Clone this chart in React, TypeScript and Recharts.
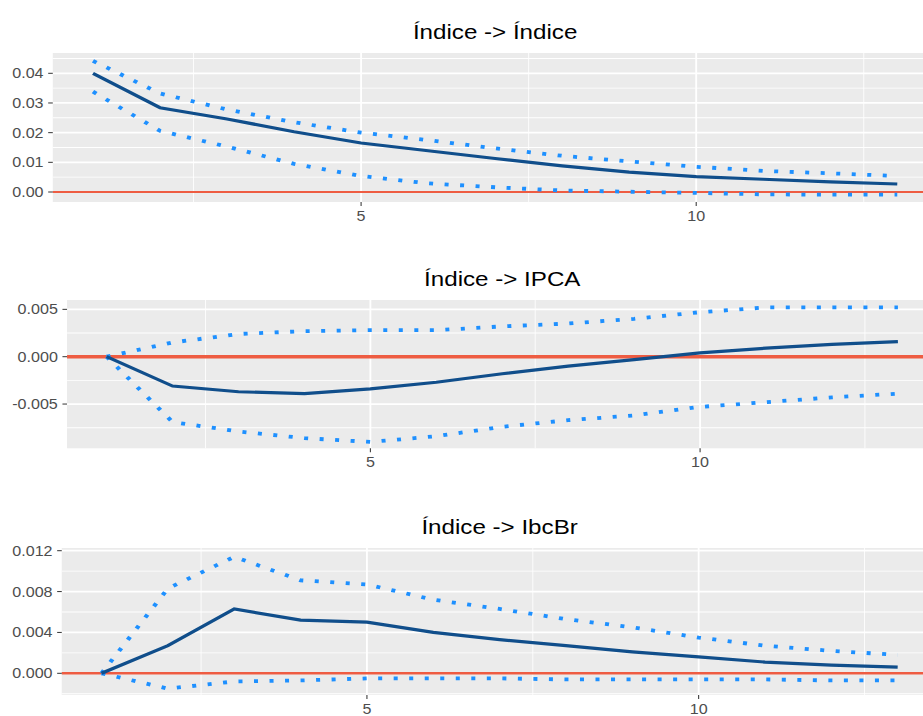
import React from "react";
import { LineChart, Line, XAxis, YAxis, CartesianGrid, ReferenceLine } from "recharts";

// ---- data ----
const STEPS = [1, 2, 3, 4, 5, 6, 7, 8, 9, 10, 11, 12, 13];
const X_TICKS = [5, 10];
const X_MINOR = [2.5, 7.5, 12.5];

const TITLE_1 = "Índice -> Índice";
const IRF_1 = [0.04, 0.0284, 0.0246, 0.0203, 0.0165, 0.0139, 0.0113, 0.0088, 0.0067, 0.0052, 0.0043, 0.0034, 0.0027];
const UPPER_1 = [0.0442, 0.0332, 0.0278, 0.0235, 0.02, 0.0175, 0.0147, 0.0122, 0.0103, 0.0085, 0.0071, 0.0063, 0.0054];
const LOWER_1 = [0.0338, 0.0206, 0.0153, 0.0095, 0.0054, 0.0029, 0.0016, 0.0005, 0.0001, -0.0003, -0.0008, -0.0009, -0.0009];
const Y_TICKS_1 = [0, 0.01, 0.02, 0.03, 0.04];
const Y_MINOR_1 = [0.005, 0.015, 0.025, 0.035, 0.045];

const TITLE_2 = "Índice -> IPCA";
const IRF_2 = [0, -0.0031, -0.0037, -0.0039, -0.0034, -0.0027, -0.0018, -0.001, -0.0003, 0.0004, 0.0009, 0.0013, 0.0016];
const UPPER_2 = [0, 0.0015, 0.0024, 0.0027, 0.0028, 0.0028, 0.0032, 0.0035, 0.004, 0.0047, 0.0052, 0.0052, 0.0052];
const LOWER_2 = [0, -0.0069, -0.0079, -0.0086, -0.009, -0.0084, -0.0074, -0.0067, -0.0062, -0.0053, -0.0048, -0.0043, -0.0039];
const Y_TICKS_2 = [-0.005, 0, 0.005];
const Y_MINOR_2 = [-0.0075, -0.0025, 0.0025];

const TITLE_3 = "Índice -> IbcBr";
const IRF_3 = [0, 0.0027, 0.0063, 0.0052, 0.005, 0.004, 0.0033, 0.0027, 0.0021, 0.0016, 0.0011, 0.0008, 0.0006];
const UPPER_3 = [0, 0.0083, 0.0114, 0.0091, 0.0087, 0.0072, 0.0063, 0.0053, 0.0045, 0.0035, 0.0027, 0.0022, 0.0018];
const LOWER_3 = [0, -0.0015, -0.0008, -0.0007, -0.0005, -0.0005, -0.0005, -0.0006, -0.0006, -0.0006, -0.0006, -0.0007, -0.0007];
const Y_TICKS_3 = [0, 0.004, 0.008, 0.012];
const Y_MINOR_3 = [-0.002, 0.002, 0.006, 0.01];

// ---- style / layout ----
const SX = 1.15;
const W = 820;
const RM = 4.8;
const TM = 12;
const FONT = "'Liberation Sans', Arial, Helvetica, sans-serif";
const BG = "#EBEBEB";
const MAIN = "#104E8B";
const BAND = "#1E90FF";
const ZERO = "#EE5C42";
const XAXIS_H = 30;

const build = (irf: number[], lo: number[], up: number[]) =>
  STEPS.map((s, i) => ({ step: s, irf: irf[i], lower: lo[i], upper: up[i] }));

const PANELS = [
  { title: TITLE_1, data: build(IRF_1, LOWER_1, UPPER_1), yTicks: Y_TICKS_1, yMinor: Y_MINOR_1, domain: [-0.00337, 0.04684], digits: 2, top: 53, h: 149, yw: 45.9, zeroW: 2.2 },
  { title: TITLE_2, data: build(IRF_2, LOWER_2, UPPER_2), yTicks: Y_TICKS_2, yMinor: Y_MINOR_2, domain: [-0.009673, 0.005987], digits: 3, top: 300, h: 148.3, yw: 58.3, zeroW: 3.4 },
  { title: TITLE_3, data: build(IRF_3, LOWER_3, UPPER_3), yTicks: Y_TICKS_3, yMinor: Y_MINOR_3, domain: [-0.002124, 0.012264], digits: 3, top: 548, h: 147, yw: 53.7, zeroW: 2.6 },
];

function Panel({ p }: { p: any }) {
  const tick = { fill: "#4D4D4D", fontSize: 14, fontFamily: FONT };
  return (
    <>
      <div
        style={{
          position: "absolute",
          left: p.yw,
          width: W - p.yw - RM,
          top: p.top - 14.7 - 17.8,
          textAlign: "center",
          fontFamily: FONT,
          fontSize: 21,
          lineHeight: "21px",
          color: "#000",
          whiteSpace: "nowrap",
        }}
      >
        {p.title}
      </div>
      <div style={{ position: "absolute", left: 0, top: p.top - TM }}>
        <LineChart width={W} height={p.h + XAXIS_H + TM} data={p.data} margin={{ top: TM, right: RM, bottom: 0, left: 0 }}>
          <CartesianGrid fill={BG} fillOpacity={1} stroke="#FFFFFF" strokeWidth={0.9} vertical={false} horizontalValues={p.yMinor} />
          <CartesianGrid stroke="#FFFFFF" strokeWidth={1.8} vertical={false} horizontalValues={p.yTicks} />
          <CartesianGrid stroke="#FFFFFF" strokeWidth={0.8} horizontal={false} verticalValues={X_MINOR} />
          <CartesianGrid stroke="#FFFFFF" strokeWidth={1.6} horizontal={false} verticalValues={X_TICKS} />
          <XAxis
            type="number"
            dataKey="step"
            domain={[0.4, 13.6]}
            ticks={X_TICKS}
            interval={0}
            allowDataOverflow
            axisLine={false}
            tickLine={{ stroke: "#333333", strokeWidth: 0.9 }}
            tickSize={4}
            tickMargin={5}
            height={XAXIS_H}
            tick={tick}
          />
          <YAxis
            type="number"
            domain={p.domain}
            ticks={p.yTicks}
            interval={0}
            allowDataOverflow
            axisLine={false}
            tickLine={{ stroke: "#333333", strokeWidth: 1 }}
            tickSize={4}
            tickMargin={4}
            width={p.yw}
            tick={tick}
            tickFormatter={(v: number) => v.toFixed(p.digits)}
          />
          <ReferenceLine y={0} stroke={ZERO} strokeWidth={p.zeroW} />
          <Line type="linear" dataKey="upper" stroke={BAND} strokeWidth={3.8} strokeDasharray="3.5 10" dot={false} isAnimationActive={false} />
          <Line type="linear" dataKey="lower" stroke={BAND} strokeWidth={3.8} strokeDasharray="3.5 10" dot={false} isAnimationActive={false} />
          <Line type="linear" dataKey="irf" stroke={MAIN} strokeWidth={3.2} dot={false} isAnimationActive={false} />
        </LineChart>
      </div>
    </>
  );
}

export default function App() {
  return (
    <div style={{ position: "absolute", left: 0, top: 0, width: 923, height: 716, overflow: "hidden", background: "#fff" }}>
      <div style={{ position: "absolute", left: 0, top: 0, width: W, height: 716, transform: `scaleX(${SX})`, transformOrigin: "0 0" }}>
        {PANELS.map((p, i) => (
          <Panel key={i} p={p} />
        ))}
      </div>
    </div>
  );
}
